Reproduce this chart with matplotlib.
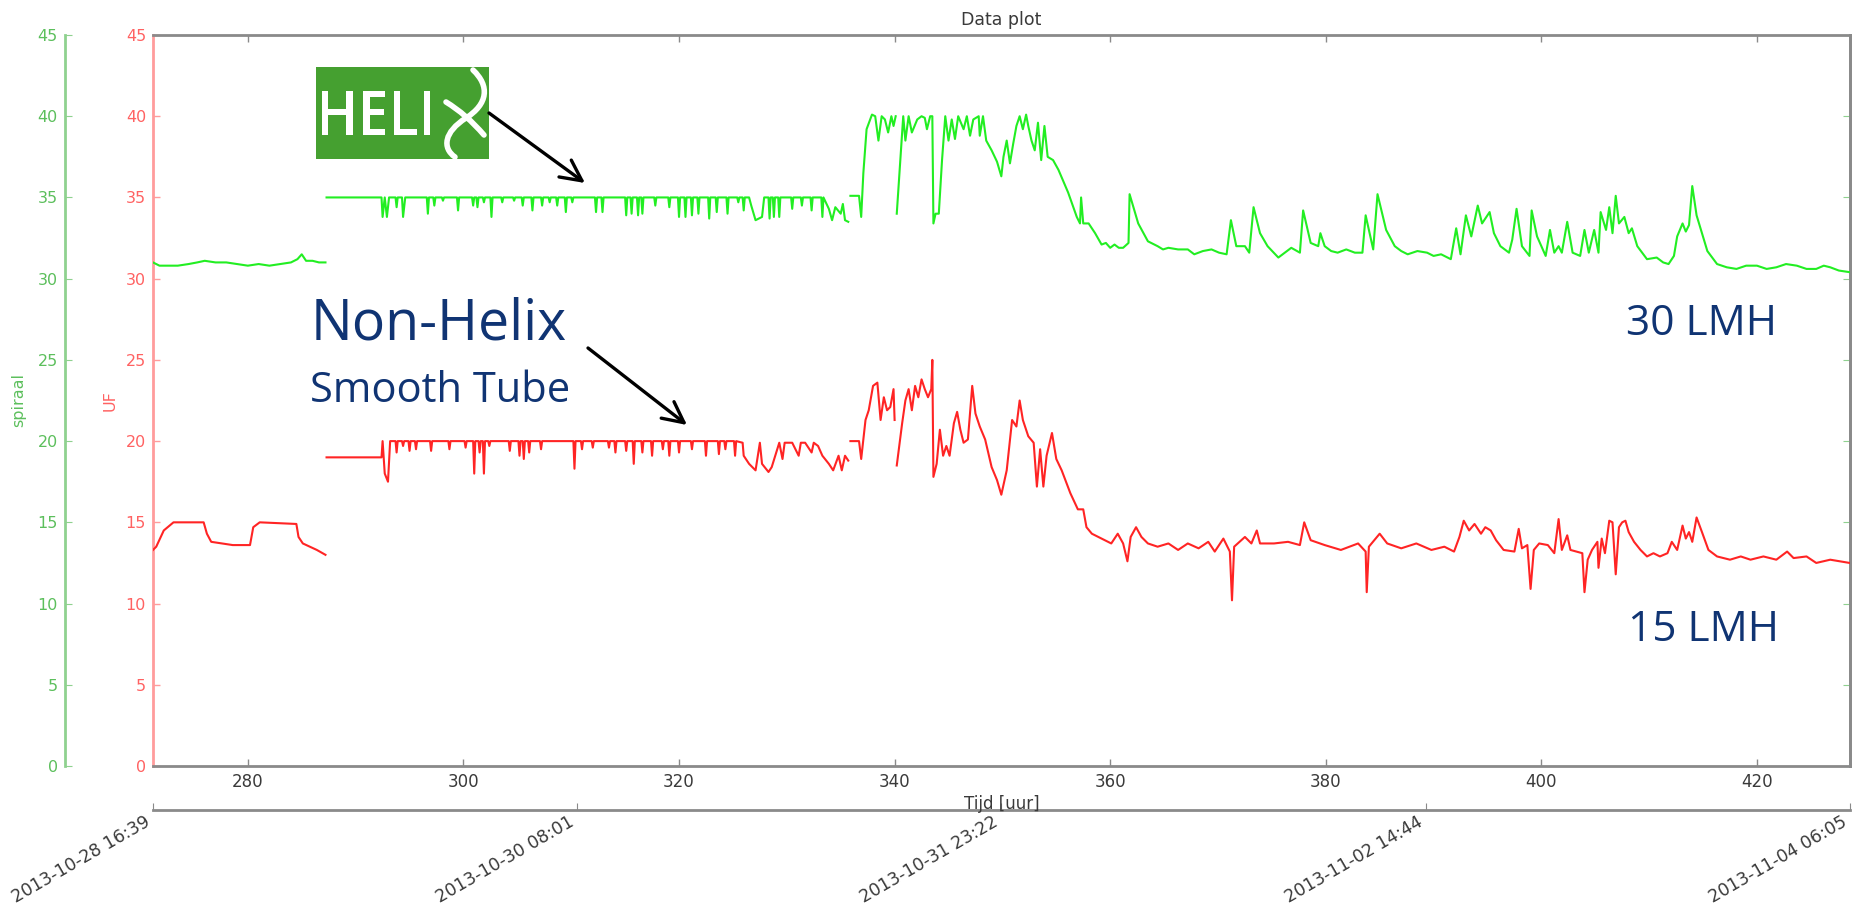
# Recreates the "Data plot" slide: spiraal (Helix) vs UF (smooth tube) flux over time.

import numpy as np
import pandas as pd
import matplotlib.pyplot as plt
from matplotlib.patches import Rectangle, PathPatch, FancyArrowPatch
from matplotlib.path import Path
from matplotlib.textpath import TextPath
from matplotlib.font_manager import FontProperties
from matplotlib.transforms import Affine2D

W, H = 1855, 909

# ── data ────────────────────────────────────────────────────────────────────
start_hour = 271.2
date_labels = ["2013-10-28 16:39", "2013-10-30 08:01", "2013-10-31 23:22",
               "2013-11-02 14:44", "2013-11-04 06:05"]

# spiraal (green), (hour, value) per logged segment
spiraal_a = [
    (271.2, 31.0), (271.8, 30.8), (272.5, 30.8), (273.5, 30.8), (274.5, 30.9),
    (275.3, 31.0), (276.0, 31.1), (277.0, 31.0), (278.0, 31.0), (279.0, 30.9),
    (280.0, 30.8), (281.0, 30.9), (282.0, 30.8), (283.0, 30.9), (284.0, 31.0),
    (284.6, 31.2), (285.0, 31.5), (285.4, 31.1), (286.0, 31.1), (286.6, 31.0),
    (287.2, 31.0),
]
spiraal_b = [
    (287.3, 35.0), (292.4, 35.0), (292.5, 33.8), (292.7, 35.0), (292.9, 33.8), (293.1, 35.0),
    (293.7, 35.0), (293.8, 34.4), (293.9, 35.0), (294.3, 35.0), (294.4, 33.8), (294.6, 35.0),
    (296.6, 35.0), (296.7, 34.0), (296.8, 35.0), (297.2, 35.0), (297.3, 34.5), (297.4, 35.0),
    (298.0, 35.0), (298.1, 34.8), (298.2, 35.0), (299.4, 35.0), (299.5, 34.2), (299.6, 35.0),
    (300.8, 35.0), (300.9, 34.5), (301.0, 35.0), (301.2, 35.0), (301.3, 34.4), (301.4, 35.0),
    (301.8, 35.0), (301.9, 34.7), (302.0, 35.0), (302.5, 35.0), (302.6, 33.8), (302.7, 35.0),
    (303.5, 35.0), (303.6, 34.7), (303.7, 35.0), (304.6, 35.0), (304.7, 34.8), (304.8, 35.0),
    (305.4, 35.0), (305.5, 34.5), (305.6, 35.0), (306.3, 35.0), (306.4, 34.2), (306.5, 35.0),
    (307.2, 35.0), (307.3, 34.5), (307.4, 35.0), (307.9, 35.0), (308.0, 34.7), (308.1, 35.0),
    (308.6, 35.0), (308.7, 34.5), (308.8, 35.0), (309.4, 35.0), (309.5, 34.1), (309.6, 35.0),
    (310.0, 35.0), (310.1, 34.7), (310.2, 35.0), (312.2, 35.0), (312.3, 34.1), (312.4, 35.0),
    (312.8, 35.0), (312.9, 34.1), (313.0, 35.0), (315.0, 35.0), (315.1, 33.9), (315.2, 35.0),
    (315.5, 35.0), (315.6, 34.0), (315.7, 35.0), (316.1, 35.0), (316.2, 33.9), (316.3, 35.0),
    (316.5, 35.0), (316.6, 34.0), (316.7, 35.0), (317.7, 35.0), (317.8, 34.5), (317.9, 35.0),
    (319.0, 35.0), (319.1, 34.4), (319.2, 35.0), (319.9, 35.0), (320.0, 33.8), (320.1, 35.0),
    (320.5, 35.0), (320.6, 33.8), (320.7, 35.0), (321.1, 35.0), (321.2, 33.9), (321.3, 35.0),
    (321.7, 35.0), (321.8, 34.0), (321.9, 35.0), (322.7, 35.0), (322.8, 33.7), (322.9, 35.0),
    (323.4, 35.0), (323.5, 34.1), (323.6, 35.0), (324.4, 35.0), (324.5, 34.0), (324.6, 35.0),
    (325.4, 35.0), (325.5, 34.7), (325.6, 35.0), (325.9, 35.0), (326.0, 34.2), (326.1, 35.0),
    (326.5, 35.0), (326.7, 34.5), (327.1, 33.6), (327.7, 33.8), (327.9, 35.0),
    (328.3, 35.0), (328.4, 33.7), (328.5, 35.0), (328.7, 35.0), (328.8, 33.8), (328.9, 35.0),
    (329.2, 35.0), (329.3, 33.8), (329.4, 35.0), (330.4, 35.0), (330.5, 34.3), (330.6, 35.0),
    (331.3, 35.0), (331.4, 34.5), (331.5, 35.0), (332.2, 35.0), (332.3, 34.2), (332.4, 35.0),
    (333.2, 35.0), (333.3, 33.8), (333.4, 35.0), (333.9, 34.3), (334.2, 33.6), (334.5, 34.4),
    (335.0, 34.0), (335.2, 34.6), (335.4, 33.6), (335.7, 33.5),
]
spiraal_c = [
    (335.9, 35.1), (336.7, 35.1), (336.9, 33.8), (337.1, 36.5), (337.4, 39.2), (337.9, 40.1),
    (338.2, 40.0), (338.5, 38.5), (338.8, 40.0), (339.1, 39.8), (339.4, 39.0), (339.7, 40.0),
    (339.9, 39.4), (340.1, 40.0),
]
spiraal_d = [
    (340.2, 34.0), (340.8, 40.0), (341.0, 38.5), (341.3, 40.0), (341.6, 39.0), (342.1, 39.8),
    (342.5, 40.0), (342.8, 39.9), (343.0, 39.2), (343.3, 40.0), (343.5, 40.0), (343.6, 33.4),
    (343.8, 34.0), (344.1, 34.0), (344.4, 37.3), (344.7, 40.0), (345.0, 38.5), (345.3, 39.8),
    (345.6, 38.6), (345.9, 40.0), (346.4, 39.2), (346.7, 40.0), (347.0, 38.8), (347.3, 39.8),
    (347.8, 40.0), (347.9, 38.8), (348.2, 40.0), (348.5, 38.5), (349.0, 37.9), (349.5, 37.2),
    (349.9, 36.3), (350.1, 37.5), (350.4, 38.5), (350.7, 37.1), (351.0, 38.3), (351.3, 39.4),
    (351.6, 40.0), (351.9, 39.2), (352.2, 40.1), (352.4, 39.4), (352.7, 38.5), (353.0, 37.9),
    (353.3, 39.6), (353.6, 37.3), (353.9, 39.4), (354.2, 37.5), (354.7, 37.3), (355.2, 36.7),
    (356.1, 35.3), (356.9, 33.8), (357.2, 33.4), (357.3, 35.0), (357.5, 33.4), (358.0, 33.4),
    (358.6, 32.8), (359.2, 32.1), (359.6, 32.2), (360.0, 31.9), (360.4, 32.1), (360.8, 31.9),
    (361.2, 31.9), (361.7, 32.2), (361.8, 35.2), (362.6, 33.4), (363.5, 32.3), (364.4, 32.0),
    (364.9, 31.8), (365.4, 31.9), (366.3, 31.8), (367.2, 31.8), (367.8, 31.5), (368.6, 31.7),
    (369.4, 31.8), (370.1, 31.6), (370.8, 31.5), (371.2, 33.6), (371.7, 32.0), (372.5, 32.0),
    (372.9, 31.6), (373.3, 34.4), (373.9, 32.8), (374.6, 32.0), (375.6, 31.3), (376.2, 31.6),
    (376.8, 31.9), (377.6, 31.6), (377.9, 34.2), (378.6, 32.2), (379.3, 32.0), (379.5, 32.8),
    (379.9, 32.0), (380.5, 31.7), (381.1, 31.6), (381.9, 31.8), (382.7, 31.6), (383.4, 31.6),
    (383.7, 33.9), (384.4, 31.8), (384.8, 35.2), (385.6, 33.0), (386.4, 32.0), (387.0, 31.7),
    (387.6, 31.5), (388.5, 31.7), (389.4, 31.6), (390.0, 31.4), (390.7, 31.5), (391.6, 31.2),
    (392.1, 33.1), (392.5, 31.5), (393.0, 33.9), (393.5, 32.6), (394.1, 34.5), (394.5, 33.4),
    (395.2, 34.1), (395.6, 32.8), (396.2, 32.0), (397.0, 31.6), (397.3, 32.4), (397.7, 34.3),
    (398.2, 32.0), (398.9, 31.4), (399.1, 34.2), (399.6, 32.6), (400.4, 31.4), (400.8, 33.0),
    (401.2, 31.6), (401.6, 32.0), (401.9, 31.6), (402.4, 33.5), (402.9, 31.6), (403.6, 31.4),
    (404.0, 33.0), (404.4, 31.6), (404.9, 33.0), (405.3, 31.6), (405.5, 34.1), (406.0, 33.0),
    (406.3, 34.4), (406.6, 32.8), (406.9, 35.1), (407.2, 33.4), (407.7, 33.8), (408.1, 32.8),
    (408.4, 33.1), (408.9, 32.0), (409.8, 31.2), (410.7, 31.3), (411.3, 31.0), (411.8, 30.9),
    (412.3, 31.4), (412.6, 32.6), (413.1, 33.4), (413.4, 32.9), (413.7, 33.3), (414.0, 35.7),
    (414.4, 33.9), (415.4, 31.7), (416.3, 30.9), (417.2, 30.7), (418.1, 30.6), (419.0, 30.8),
    (420.0, 30.8), (420.9, 30.6), (421.8, 30.7), (422.7, 30.9), (423.7, 30.8), (424.6, 30.6),
    (425.5, 30.6), (426.2, 30.8), (426.8, 30.7), (427.6, 30.5), (428.6, 30.4),
]

# UF (red), (hour, value) per logged segment
uf_a = [
    (271.2, 13.3), (271.5, 13.5), (272.2, 14.5), (273.1, 15.0), (275.9, 15.0), (276.2, 14.3),
    (276.6, 13.8), (278.6, 13.6), (280.2, 13.6), (280.5, 14.7), (281.1, 15.0), (284.5, 14.9),
    (284.7, 14.1), (285.1, 13.7), (286.4, 13.3), (287.2, 13.0),
]
uf_b = [
    (287.3, 19.0), (292.4, 19.0), (292.5, 20.0), (292.7, 18.0), (293.0, 17.5), (293.2, 20.0),
    (293.7, 20.0), (293.8, 19.3), (293.9, 20.0), (294.3, 20.0), (294.4, 19.7), (294.5, 20.0),
    (294.9, 20.0), (295.0, 19.4), (295.1, 20.0), (295.5, 20.0), (295.6, 19.5), (295.7, 20.0),
    (296.9, 20.0), (297.0, 19.4), (297.1, 20.0), (298.6, 20.0), (298.7, 19.5), (298.8, 20.0),
    (300.1, 20.0), (300.2, 19.6), (300.3, 20.0), (300.9, 20.0), (301.0, 18.0), (301.1, 20.0),
    (301.4, 20.0), (301.5, 19.3), (301.6, 20.0), (301.8, 20.0), (301.9, 18.0), (302.0, 20.0),
    (302.3, 20.0), (302.4, 19.7), (302.5, 20.0), (304.2, 20.0), (304.3, 19.4), (304.4, 20.0),
    (305.1, 20.0), (305.2, 19.1), (305.3, 20.0), (305.5, 20.0), (305.6, 18.9), (305.7, 20.0),
    (306.0, 20.0), (306.1, 19.3), (306.2, 20.0), (307.1, 20.0), (307.2, 19.5), (307.3, 20.0),
    (310.2, 20.0), (310.3, 18.3), (310.4, 20.0), (310.9, 20.0), (311.0, 19.5), (311.1, 20.0),
    (311.9, 20.0), (312.0, 19.6), (312.1, 20.0), (313.4, 20.0), (313.5, 19.6), (313.6, 20.0),
    (314.0, 20.0), (314.1, 19.3), (314.2, 20.0), (315.0, 20.0), (315.1, 19.4), (315.2, 20.0),
    (315.7, 20.0), (315.8, 18.6), (315.9, 20.0), (316.5, 20.0), (316.6, 19.3), (316.7, 20.0),
    (317.4, 20.0), (317.5, 19.1), (317.6, 20.0), (318.4, 20.0), (318.5, 19.5), (318.6, 20.0),
    (319.0, 20.0), (319.1, 19.1), (319.2, 20.0), (319.9, 20.0), (320.0, 19.3), (320.1, 20.0),
    (321.1, 20.0), (321.2, 19.5), (321.3, 20.0), (322.4, 20.0), (322.5, 19.1), (322.6, 20.0),
    (323.6, 20.0), (323.7, 19.2), (323.8, 20.0), (324.2, 20.0), (324.3, 19.5), (324.4, 20.0),
    (325.1, 20.0), (325.2, 19.1), (325.3, 20.0), (325.9, 19.9), (326.0, 19.1), (326.5, 18.6),
    (327.1, 18.2), (327.5, 19.9), (327.7, 18.6), (328.3, 18.1), (328.6, 18.4), (329.3, 19.9),
    (329.6, 18.9), (329.8, 19.9), (330.5, 19.9), (331.1, 19.1), (331.3, 19.9), (331.7, 19.9),
    (332.3, 19.3), (332.5, 19.9), (332.9, 19.7), (333.3, 19.1), (333.9, 18.6), (334.3, 18.2),
    (334.8, 19.1), (335.1, 18.2), (335.4, 19.1), (335.7, 18.8),
]
uf_c = [
    (335.9, 20.0), (336.7, 20.0), (336.9, 18.9), (337.3, 21.3), (337.6, 21.9), (338.0, 23.4),
    (338.4, 23.6), (338.7, 21.3), (339.0, 22.7), (339.3, 21.9), (339.6, 22.1), (339.9, 23.2),
    (340.0, 21.3),
]
uf_d = [
    (340.2, 18.5), (340.7, 21.1), (341.0, 22.5), (341.3, 23.2), (341.6, 21.9), (341.9, 23.4),
    (342.2, 22.7), (342.5, 23.8), (342.8, 23.2), (343.1, 22.7), (343.4, 23.2), (343.5, 25.0),
    (343.6, 17.8), (343.9, 18.6), (344.2, 20.7), (344.5, 19.1), (344.8, 19.7), (345.1, 19.1),
    (345.5, 21.1), (345.8, 21.8), (346.1, 20.7), (346.4, 19.9), (346.8, 20.1), (347.2, 23.4),
    (347.5, 21.7), (347.9, 20.9), (348.4, 20.1), (349.0, 18.4), (349.5, 17.6), (349.9, 16.7),
    (350.4, 18.2), (350.9, 21.3), (351.3, 20.9), (351.6, 22.5), (351.9, 21.3), (352.4, 20.3),
    (352.9, 19.9), (353.2, 17.2), (353.5, 19.5), (353.8, 17.2), (354.1, 19.1), (354.6, 20.5),
    (355.0, 18.9), (355.5, 18.2), (356.3, 16.8), (357.0, 15.8), (357.5, 15.8), (357.8, 14.7),
    (358.3, 14.3), (359.2, 14.0), (360.1, 13.7), (360.7, 14.3), (361.2, 13.7), (361.6, 12.6),
    (361.9, 14.1), (362.4, 14.7), (362.9, 14.1), (363.5, 13.7), (364.4, 13.5), (365.4, 13.7),
    (366.3, 13.3), (367.2, 13.7), (368.2, 13.4), (369.1, 13.8), (369.7, 13.2), (370.5, 14.0),
    (371.1, 13.2), (371.3, 10.2), (371.5, 13.5), (372.5, 14.1), (373.1, 13.7), (373.6, 14.5),
    (373.9, 13.7), (375.2, 13.7), (376.5, 13.8), (377.6, 13.6), (378.0, 15.0), (378.6, 13.9),
    (379.9, 13.6), (381.4, 13.3), (383.0, 13.7), (383.7, 13.2), (383.8, 10.7), (384.0, 13.5),
    (385.0, 14.3), (385.7, 13.7), (387.0, 13.4), (388.4, 13.7), (389.8, 13.3), (391.0, 13.5),
    (391.9, 13.2), (392.4, 14.1), (392.8, 15.1), (393.3, 14.5), (393.8, 14.9), (394.4, 14.3),
    (394.8, 14.7), (395.3, 14.5), (395.8, 13.9), (396.5, 13.3), (397.5, 13.2), (397.9, 14.6),
    (398.2, 13.4), (398.7, 13.6), (399.0, 10.9), (399.3, 13.3), (399.8, 13.7), (400.6, 13.6),
    (401.2, 13.1), (401.6, 15.2), (401.9, 13.3), (402.4, 14.2), (402.7, 13.3), (403.8, 13.1),
    (404.0, 10.7), (404.3, 12.7), (404.7, 13.3), (405.2, 13.8), (405.3, 12.2), (405.6, 14.0),
    (405.9, 13.1), (406.3, 15.1), (406.6, 15.0), (406.9, 11.8), (407.2, 14.7), (407.5, 15.0),
    (407.8, 15.1), (408.1, 14.4), (408.6, 13.8), (409.2, 13.3), (409.8, 12.9), (410.4, 13.1),
    (411.0, 12.9), (411.7, 13.1), (412.1, 13.8), (412.6, 13.3), (413.1, 14.8), (413.4, 14.0),
    (413.7, 14.4), (414.0, 13.8), (414.4, 15.3), (414.9, 14.4), (415.5, 13.3), (416.3, 12.9),
    (417.5, 12.7), (418.5, 12.9), (419.4, 12.7), (420.6, 12.9), (421.8, 12.7), (422.8, 13.2),
    (423.4, 12.8), (424.6, 12.9), (425.5, 12.5), (426.8, 12.7), (428.6, 12.5),
]

# ── colours ─────────────────────────────────────────────────────────────────
C_GREEN_LINE  = "#22ee22"
C_RED_LINE    = "#ff2424"
C_GREEN_SPINE = "#8fd18f"
C_RED_SPINE   = "#ff9c9c"
C_GREEN_TXT   = "#5cbf5c"
C_RED_TXT     = "#ff6262"
C_GREY        = "#8a8a8a"
C_TXT         = "#3a3a3a"
C_NAVY        = "#103473"
C_HELIX       = "#45a030"


def px(X, Y):
    """full-image pixel (top-left origin) -> figure fraction"""
    return X / W, 1 - Y / H


def flip(X, Y):
    """top-left pixel -> bottom-left pixel"""
    return X, H - Y


# ── figure / main axes ──────────────────────────────────────────────────────
fig = plt.figure(figsize=(W / 100, H / 100), dpi=100)
fig.patch.set_facecolor("white")

x0, y1 = px(153, 35)
x1, y0 = px(1850, 766)
ax = fig.add_axes([x0, y0, x1 - x0, y1 - y0])

for seg in (spiraal_a, spiraal_b, spiraal_c, spiraal_d):
    t, v = zip(*seg)
    ax.plot(t, v, color=C_GREEN_LINE, lw=1.5, zorder=3)
for seg in (uf_a, uf_b, uf_c, uf_d):
    t, v = zip(*seg)
    ax.plot(t, v, color=C_RED_LINE, lw=1.5, zorder=3)

date_hours = [start_hour + (pd.Timestamp(d) - pd.Timestamp(date_labels[0])) / pd.Timedelta(hours=1)
              for d in date_labels]
ax.set_xlim(date_hours[0], date_hours[-1])
ax.set_ylim(0, 45)
ax.set_xticks(np.arange(280, 421, 20))
ax.set_yticks(np.arange(0, 46, 5))

for side in ("top", "right", "bottom"):
    ax.spines[side].set_color(C_GREY)
    ax.spines[side].set_linewidth(2)
ax.spines["left"].set_color(C_RED_SPINE)
ax.spines["left"].set_linewidth(2)

ax.tick_params(axis="x", direction="in", top=True, length=5, width=1,
               color=C_GREY, labelcolor=C_TXT, labelsize=12, pad=5)
ax.tick_params(axis="y", direction="in", length=5, width=1,
               color=C_RED_SPINE, labelcolor=C_RED_TXT, labelsize=11.5, pad=5)
ax.set_ylabel("UF", color=C_RED_TXT, fontsize=11.5, labelpad=6)
ax.set_xlabel("Tijd [uur]", color=C_TXT, fontsize=12, labelpad=3)
ax.set_title("Data plot", color=C_TXT, fontsize=12.5, pad=7)

# right-hand ticks (green, no labels)
rax = ax.secondary_yaxis("right")
rax.set_yticks(np.arange(0, 46, 5))
rax.tick_params(direction="in", length=5, color=C_GREEN_SPINE, labelright=False)
rax.spines["right"].set_color(C_GREY)
rax.spines["right"].set_linewidth(2)

# green "spiraal" axis, offset to the left
gax = ax.secondary_yaxis(-0.052)
gax.set_yticks(np.arange(0, 46, 5))
gax.spines["left"].set_color(C_GREEN_SPINE)
gax.spines["left"].set_linewidth(2)
gax.tick_params(direction="in", length=5, color=C_GREEN_SPINE,
                labelcolor=C_GREEN_TXT, labelsize=11.5, pad=5)
gax.set_ylabel("spiraal", color=C_GREEN_TXT, fontsize=11.5, labelpad=8)

# date axis below; rotated labels right-aligned on their tick
dax = ax.secondary_xaxis(-0.060)
dax.set_xticks(date_hours, labels=date_labels, rotation=30, ha="right")
dax.spines["bottom"].set_color(C_GREY)
dax.spines["bottom"].set_linewidth(2)
dax.tick_params(direction="in", length=5, color=C_GREY, labelcolor=C_TXT,
                labelsize=12.5, pad=2)

# ── HELIX logo ──────────────────────────────────────────────────────────────
to_fig = Affine2D().scale(1 / W, 1 / H) + fig.transFigure

rx, ry = flip(316, 159)
fig.add_artist(Rectangle((rx, ry), 173, 92, facecolor=C_HELIX, edgecolor="none",
                         transform=to_fig, zorder=10))

fp = FontProperties(family="Open Sans", weight="semibold")
tp = TextPath((0, 0), "HELI", size=1, prop=fp)
ext = tp.get_extents()
tr = (Affine2D().translate(-ext.x0, -ext.y0)
      .scale((430 - 322) / ext.width, (135 - 91) / ext.height)
      .translate(322, H - 135)) + to_fig
fig.add_artist(PathPatch(tp, transform=tr, facecolor="white", edgecolor="none", zorder=11))

# stylised helix "X"
strand = Path([flip(473, 70), flip(490, 86), flip(488, 104), flip(466, 118),
               flip(444, 132), flip(442, 148), flip(455, 157)],
              [Path.MOVETO, Path.CURVE4, Path.CURVE4, Path.CURVE4,
               Path.CURVE4, Path.CURVE4, Path.CURVE4])
cross = Path([flip(446, 102), flip(466, 114), flip(484, 135)],
             [Path.MOVETO, Path.CURVE3, Path.CURVE3])
for p in (strand, cross):
    fig.add_artist(PathPatch(p, transform=to_fig, facecolor="none", edgecolor="white",
                             lw=4.0, capstyle="round", zorder=11))


# ── slide annotations ───────────────────────────────────────────────────────
def note(X, Y, s, size):
    fx, fy = px(X, Y)
    fig.text(fx, fy, s, fontsize=size, color=C_NAVY, family="Open Sans",
             ha="left", va="baseline", zorder=12)


def arrow(Xa, Ya, Xb, Yb):
    fig.add_artist(FancyArrowPatch(
        flip(Xa, Ya), flip(Xb, Yb), transform=to_fig,
        arrowstyle="->,head_length=0.6,head_width=0.3", mutation_scale=25,
        lw=2.4, color="black", shrinkA=0, shrinkB=0, zorder=12))


note(311, 340, "Non-Helix", 40)
note(310, 402, "Smooth Tube", 30)
note(1626, 335, "30 LMH", 30.5)
note(1628, 641, "15 LMH", 30.5)

arrow(489, 113, 585, 183)
arrow(588, 348, 687, 425)

fig.savefig("out.png", dpi=100, facecolor="white")
plt.close(fig)
